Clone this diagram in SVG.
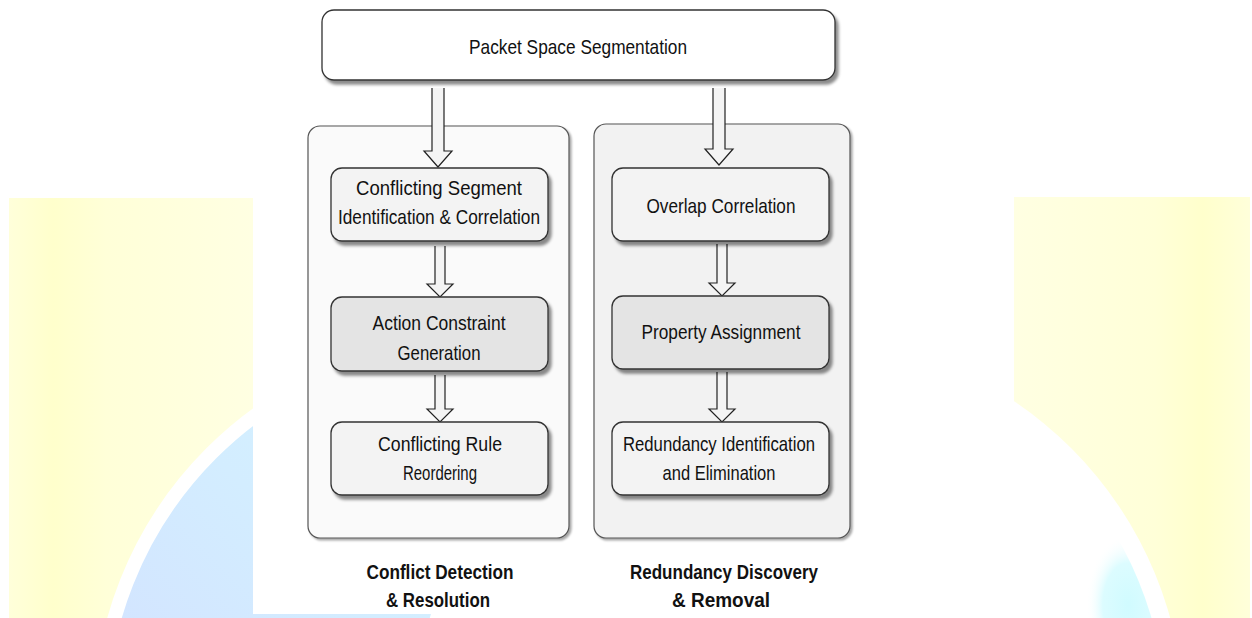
<svg xmlns="http://www.w3.org/2000/svg" width="1252" height="618" viewBox="0 0 1252 618">
<defs>
<style>
.t{font-family:"Liberation Sans",Arial,sans-serif;font-size:21px;fill:#111;text-anchor:middle}
.b{font-weight:bold;font-size:20px}
.box{stroke:#333;stroke-width:1.3}
.lt{fill:#F3F3F3}
.dk{fill:#E4E4E4}
.cont{stroke:#555;stroke-width:1.2}
.arr{fill:#F4F4F4;stroke:#222;stroke-width:1.2;stroke-linejoin:miter}
</style>
<filter id="sh" x="-5%" y="-10%" width="115%" height="130%">
<feDropShadow dx="3" dy="4" stdDeviation="1.5" flood-color="#000" flood-opacity="0.45"/>
</filter>
<filter id="sh2" x="-5%" y="-5%" width="115%" height="115%">
<feDropShadow dx="2" dy="2" stdDeviation="1" flood-color="#000" flood-opacity="0.35"/>
</filter>
<linearGradient id="yl" x1="0" y1="0" x2="1" y2="0">
<stop offset="0" stop-color="#FFFFDA"/>
<stop offset="0.18" stop-color="#FFFFCC"/>
<stop offset="0.4" stop-color="#FFFFD8"/>
<stop offset="1" stop-color="#FFFFE2"/>
</linearGradient>
<linearGradient id="yr" x1="0" y1="0" x2="1" y2="0">
<stop offset="0" stop-color="#FFFFE2"/>
<stop offset="0.6" stop-color="#FFFFD8"/>
<stop offset="0.8" stop-color="#FFFFCC"/>
<stop offset="1" stop-color="#FFFFDA"/>
</linearGradient>
<linearGradient id="bl" x1="1" y1="0" x2="0" y2="1">
<stop offset="0" stop-color="#D6FCFF"/>
<stop offset="0.5" stop-color="#D3EDFF"/>
<stop offset="1" stop-color="#D2D6FF"/>
</linearGradient>
<radialGradient id="cy" cx="0.5" cy="0.5" r="0.5">
<stop offset="0" stop-color="#D0FBFF"/>
<stop offset="0.6" stop-color="#DCFCFF"/>
<stop offset="1" stop-color="#FFFFFF" stop-opacity="0"/>
</radialGradient>
<clipPath id="rc"><circle cx="800" cy="720" r="366"/></clipPath>
</defs>

<g id="background">
<rect x="0" y="0" width="1252" height="618" fill="#FFFFFF"/>
<rect x="9" y="198" width="244" height="420" fill="url(#yl)"/>
<rect x="1014" y="197" width="236" height="421" fill="url(#yr)"/>
<circle cx="480" cy="722" r="380" fill="url(#bl)" stroke="#FFFFFF" stroke-width="14"/>
<circle cx="800" cy="720" r="384" fill="#FFFFFF"/>
<ellipse cx="1128" cy="605" rx="42" ry="70" fill="url(#cy)" clip-path="url(#rc)"/>
<rect x="253" y="0" width="761" height="614" fill="#FFFFFF"/>
</g>

<g id="containers">
<g id="conflict-container">
<rect class="cont" x="308" y="126" width="261" height="412" rx="12" fill="#FAFAFA" filter="url(#sh2)"/>
</g>
<g id="redundancy-container">
<rect class="cont" x="594" y="124" width="256" height="414" rx="12" fill="#F2F2F2" filter="url(#sh2)"/>
</g>
</g>

<g id="connectors">
<path class="arr" d="M432,88 V151 H424 L438,167 L452,151 H444 V88"/>
<path class="arr" d="M713,88 V149 H705 L719,165 L733,149 H725 V88"/>
<path class="arr" d="M435,246 V284 H427 L440,297 L453,284 H445 V246"/>
<path class="arr" d="M435,375 V409 H427 L440,422 L453,409 H445 V375"/>
<path class="arr" d="M717,244 V283 H709 L722,296 L735,283 H727 V244"/>
<path class="arr" d="M717,372 V409 H709 L722,422 L735,409 H727 V372"/>
</g>

<g id="packet-space-segmentation">
<rect class="box" x="322" y="10" width="513" height="70" rx="12" fill="#FFFFFF" filter="url(#sh)"/>
<text class="t" x="578" y="54" textLength="218" lengthAdjust="spacingAndGlyphs">Packet Space Segmentation</text>
</g>

<g id="conflicting-segment">
<rect class="box lt" x="331" y="168" width="217" height="73" rx="11" filter="url(#sh)"/>
<text class="t" x="439" y="195" textLength="166" lengthAdjust="spacingAndGlyphs">Conflicting Segment</text>
<text class="t" x="439" y="224" textLength="202" lengthAdjust="spacingAndGlyphs">Identification &amp; Correlation</text>
</g>

<g id="action-constraint">
<rect class="box dk" x="331" y="297" width="217" height="74" rx="11" filter="url(#sh)"/>
<text class="t" x="439" y="330" textLength="133" lengthAdjust="spacingAndGlyphs">Action Constraint</text>
<text class="t" x="439" y="360" textLength="83" lengthAdjust="spacingAndGlyphs">Generation</text>
</g>

<g id="conflicting-rule">
<rect class="box lt" x="331" y="422" width="217" height="73" rx="11" filter="url(#sh)"/>
<text class="t" x="440" y="451" textLength="124" lengthAdjust="spacingAndGlyphs">Conflicting Rule</text>
<text class="t" x="440" y="480" textLength="74" lengthAdjust="spacingAndGlyphs">Reordering</text>
</g>

<g id="overlap-correlation">
<rect class="box lt" x="612" y="168" width="217" height="73" rx="11" filter="url(#sh)"/>
<text class="t" x="721" y="213" textLength="149" lengthAdjust="spacingAndGlyphs">Overlap Correlation</text>
</g>

<g id="property-assignment">
<rect class="box dk" x="612" y="296" width="217" height="73" rx="11" filter="url(#sh)"/>
<text class="t" x="721" y="339" textLength="159" lengthAdjust="spacingAndGlyphs">Property Assignment</text>
</g>

<g id="redundancy-identification">
<rect class="box lt" x="612" y="422" width="217" height="73" rx="11" filter="url(#sh)"/>
<text class="t" x="719" y="451" textLength="192" lengthAdjust="spacingAndGlyphs">Redundancy Identification</text>
<text class="t" x="719" y="480" textLength="113" lengthAdjust="spacingAndGlyphs">and Elimination</text>
</g>

<g id="labels">
<text class="t b" x="440" y="579" textLength="147" lengthAdjust="spacingAndGlyphs">Conflict Detection</text>
<text class="t b" x="438" y="607" textLength="104" lengthAdjust="spacingAndGlyphs">&amp; Resolution</text>
<text class="t b" x="724" y="579" textLength="188" lengthAdjust="spacingAndGlyphs">Redundancy Discovery</text>
<text class="t b" x="721" y="607" textLength="98" lengthAdjust="spacingAndGlyphs">&amp; Removal</text>
</g>
</svg>
